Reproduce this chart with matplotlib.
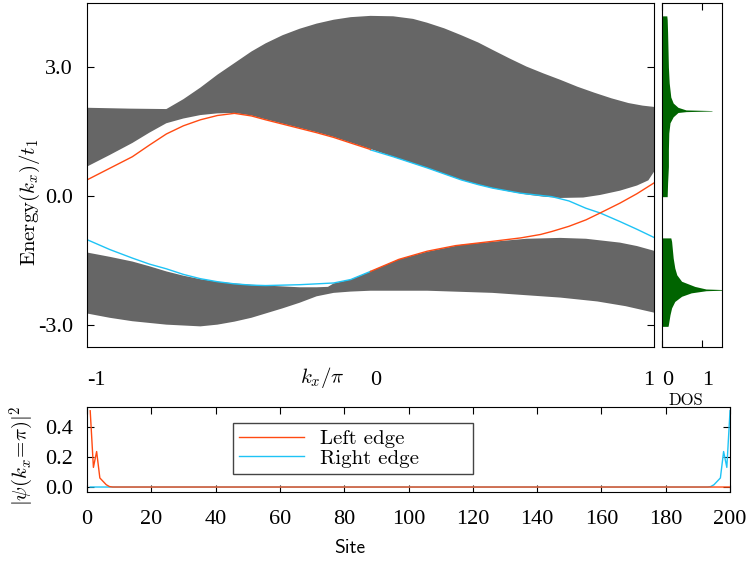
import numpy as np
import matplotlib
matplotlib.use('Agg')
import matplotlib.pyplot as plt

plt.rcParams['mathtext.fontset'] = 'cm'
plt.rcParams['font.family'] = 'Liberation Serif'

kx_up_top = [-1.0, -0.85, -0.72, -0.66, -0.60, -0.54, -0.48, -0.42, -0.37, -0.31, -0.25, -0.19,
             -0.13, -0.07, 0.0, 0.08, 0.15, 0.20, 0.26, 0.32, 0.38, 0.43, 0.49, 0.55, 0.61, 0.67,
             0.73, 0.79, 0.85, 0.91, 0.96, 1.0]
e_up_top = [2.05, 2.03, 2.02, 2.25, 2.52, 2.82, 3.09, 3.36, 3.55, 3.74, 3.89, 4.01,
            4.10, 4.16, 4.19, 4.18, 4.12, 4.03, 3.90, 3.74, 3.57, 3.40, 3.20, 3.01, 2.85, 2.70,
            2.54, 2.40, 2.27, 2.16, 2.10, 2.07]
kx_up_bot = [-1.0, -0.92, -0.84, -0.78, -0.72, -0.66, -0.60, -0.54, -0.48, -0.42, -0.37, -0.31,
             -0.25, -0.19, -0.13, -0.07, 0.0, 0.08, 0.14, 0.20, 0.26, 0.32, 0.38, 0.43, 0.49, 0.55,
             0.61, 0.67, 0.75, 0.81, 0.88, 0.94, 0.98, 1.0]
e_up_bot = [0.68, 0.95, 1.23, 1.47, 1.69, 1.80, 1.88, 1.92, 1.93, 1.87, 1.78, 1.68,
            1.58, 1.48, 1.37, 1.24, 1.09, 0.91, 0.78, 0.65, 0.51, 0.37, 0.26, 0.18, 0.10, 0.03,
            -0.02, -0.05, -0.04, 0.02, 0.12, 0.24, 0.36, 0.56]

kx_lo_top = [-1.0, -0.92, -0.84, -0.78, -0.72, -0.66, -0.60, -0.54, -0.48, -0.42, -0.37, -0.31,
             -0.25, -0.19, -0.15, -0.13, -0.07, 0.0, 0.05, 0.10, 0.20, 0.32, 0.43, 0.55, 0.67,
             0.76, 0.88, 0.94, 1.0]
e_lo_top = [-1.32, -1.42, -1.53, -1.64, -1.76, -1.86, -1.94, -2.00, -2.04, -2.07, -2.09, -2.11,
            -2.13, -2.13, -2.12, -2.04, -1.95, -1.76, -1.62, -1.48, -1.30, -1.14, -1.07, -1.00, -0.98,
            -1.00, -1.09, -1.17, -1.28]
kx_lo_bot = [-1.0, -0.92, -0.84, -0.72, -0.60, -0.54, -0.48, -0.42, -0.37, -0.31, -0.25, -0.19,
             -0.13, -0.07, 0.0, 0.20, 0.43, 0.67, 0.80, 0.90, 1.0]
e_lo_bot = [-2.74, -2.84, -2.92, -3.00, -3.04, -3.00, -2.93, -2.84, -2.74, -2.62, -2.49, -2.34,
            -2.26, -2.23, -2.21, -2.21, -2.26, -2.37, -2.46, -2.57, -2.72]

# edge states
kx_red_a = [-1.0, -0.92, -0.84, -0.78, -0.72, -0.66, -0.60, -0.54, -0.48, -0.42, -0.37, -0.31,
            -0.25, -0.19, -0.13, -0.07, 0.0]
e_red_a = [0.37, 0.64, 0.91, 1.18, 1.44, 1.63, 1.77, 1.87, 1.92, 1.86, 1.77, 1.67,
           1.57, 1.47, 1.36, 1.23, 1.08]
kx_red_b = [0.0, 0.05, 0.10, 0.20, 0.30, 0.43, 0.53, 0.60, 0.64, 0.70, 0.76, 0.81, 0.88, 0.94, 1.0]
e_red_b = [-1.76, -1.62, -1.48, -1.29, -1.16, -1.06, -0.98, -0.90, -0.83, -0.71, -0.56, -0.40,
           -0.17, 0.05, 0.30]
kx_cyan_a = [-1.0, -0.92, -0.84, -0.78, -0.72, -0.66, -0.60, -0.54, -0.48, -0.42, -0.37, -0.31,
             -0.25, -0.19, -0.13, -0.07, 0.0]
e_cyan_a = [-1.02, -1.25, -1.45, -1.59, -1.70, -1.83, -1.93, -2.00, -2.05, -2.08, -2.09, -2.08,
            -2.07, -2.05, -2.03, -1.95, -1.76]
kx_cyan_b = [0.0, 0.08, 0.14, 0.20, 0.26, 0.32, 0.38, 0.43, 0.53, 0.64, 0.70, 0.76, 0.81, 0.88,
             0.94, 1.0]
e_cyan_b = [1.07, 0.91, 0.78, 0.65, 0.51, 0.37, 0.26, 0.18, 0.06, -0.02, -0.12, -0.29, -0.40,
            -0.60, -0.78, -0.97]

# density of states
e_dos_up = [4.19, 4.10, 3.80, 3.40, 3.00, 2.63, 2.30, 2.16, 2.06, 2.00, 1.985, 1.975, 1.96,
            1.94, 1.84, 1.70, 1.46, 1.07, 0.68, 0.30, 0.0, -0.02]
dos_up = [0.12, 0.13, 0.14, 0.15, 0.16, 0.18, 0.22, 0.28, 0.40, 0.60, 1.25, 1.25, 0.60,
          0.40, 0.28, 0.20, 0.17, 0.16, 0.16, 0.14, 0.13, 0.13]
e_dos_lo = [-0.98, -1.06, -1.45, -1.68, -1.84, -1.99, -2.11, -2.17, -2.185, -2.195, -2.21,
            -2.26, -2.34, -2.46, -2.61, -2.77, -3.00, -3.04]
dos_lo = [0.22, 0.24, 0.28, 0.32, 0.37, 0.49, 0.82, 1.10, 1.60, 1.60, 1.10,
          0.73, 0.49, 0.32, 0.24, 0.20, 0.16, 0.15]

# |psi|^2 at kx = pi
sites = np.arange(1, 201)
psi_left = [0.505, 0.13, 0.235, 0.06, 0.037, 0.015, 0.003] + [0.0] * 193
psi_right = [0.0] * 193 + [0.003, 0.015, 0.037, 0.06, 0.235, 0.13, 0.505]

red = '#ff4a12'
cyan = '#1ec3f5'
gray = '#666666'
green = '#006400'

fig = plt.figure(figsize=(7.46, 5.63), dpi=100)

# main band panel
ax = fig.add_axes([0.1166, 0.3837, 0.7601, 0.611])
ax.fill(np.concatenate([kx_up_top, kx_up_bot[::-1]]),
        np.concatenate([e_up_top, e_up_bot[::-1]]), color=gray, lw=0)
ax.fill(np.concatenate([kx_lo_top, kx_lo_bot[::-1]]),
        np.concatenate([e_lo_top, e_lo_bot[::-1]]), color=gray, lw=0)
ax.plot(kx_cyan_a, e_cyan_a, color=cyan, lw=1.0)
ax.plot(kx_cyan_b, e_cyan_b, color=cyan, lw=1.0)
ax.plot(kx_red_a, e_red_a, color=red, lw=1.0)
ax.plot(kx_red_b, e_red_b, color=red, lw=1.0)
ax.set_xlim(-1, 1)
ax.set_ylim(-3.52, 4.49)
ax.set_yticks([-3, 0, 3])
ax.set_yticklabels(['-3.0', '0.0', '3.0'])
ax.set_xticks([-1, 0, 1])
ax.set_xticklabels(['-1', '0', '1'])
for lab, ha in zip(ax.get_xticklabels(), ['left', 'left', 'right']):
    lab.set_ha(ha)
ax.tick_params(axis='y', direction='in', length=5, left=True, right=True, labelsize=16, pad=10)
ax.tick_params(axis='x', length=0, labelsize=16, pad=17)
ax.text(-0.1005, 0.4215, r'$\mathrm{Energy}(k_x)/t_1$', transform=ax.transAxes,
        rotation=90, ha='center', va='center', fontsize=15)
ax.text(0.416, -0.09, r'$k_x/\pi$', transform=ax.transAxes, ha='center', va='center',
        fontsize=15)

# DOS panel
ax2 = fig.add_axes([0.8874, 0.3837, 0.0804, 0.611])
ax2.fill_betweenx(e_dos_up, 0, dos_up, color=green, lw=0)
ax2.fill_betweenx(e_dos_lo, 0, dos_lo, color=green, lw=0)
ax2.set_xlim(0, 1.5)
ax2.set_ylim(-3.52, 4.49)
ax2.set_yticks([])
ax2.set_xticks([0, 1])
ax2.set_xticklabels(['0', '1'])
for lab in ax2.get_xticklabels():
    lab.set_ha('left')
ax2.tick_params(axis='x', direction='in', length=5, top=True, labelsize=16, pad=17)
ax2.text(0.4, -0.155, 'DOS', transform=ax2.transAxes, ha='center', va='center',
         fontsize=12, family='cmr10')

# wavefunction panel
ax3 = fig.add_axes([0.1166, 0.1261, 0.862, 0.151])
ax3.plot(sites, psi_right, color=cyan, lw=1.0, label='Right edge', zorder=2)
ax3.plot(sites, psi_left, color=red, lw=1.0, label='Left edge', zorder=3)
ax3.set_xlim(0, 200)
ax3.set_ylim(-0.033, 0.53)
ax3.set_xticks(range(0, 201, 20))
ax3.set_xticklabels([str(v) for v in range(0, 201, 20)])
ax3.set_yticks([0.0, 0.2, 0.4])
ax3.set_yticklabels(['0.0', '0.2', '0.4'])
ax3.tick_params(direction='in', length=5, top=True, right=True, labelsize=16)
ax3.tick_params(axis='x', pad=13)
ax3.tick_params(axis='y', pad=10)
h, l = ax3.get_legend_handles_labels()
leg = ax3.legend(h[::-1], l[::-1], loc='upper left', bbox_to_anchor=(0.227, 0.176, 0.373, 0.634),
                 mode='expand', prop={'family': 'cmr10', 'size': 15}, handlelength=3.1,
                 handletextpad=0.8, borderpad=0.3, labelspacing=0.05, fancybox=False,
                 framealpha=1, borderaxespad=0)
leg.get_frame().set_edgecolor('#444444')
leg.get_frame().set_linewidth(1.0)
ax3.text(-0.101, 0.424, r'$|\psi(k_x\!=\!\pi)|^2$', transform=ax3.transAxes, rotation=90,
         ha='center', va='center', fontsize=15)
ax3.text(0.409, -0.66, 'Site', transform=ax3.transAxes, ha='center', va='center',
         fontsize=14, family='cmss10')

fig.savefig('out.png', dpi=100)
